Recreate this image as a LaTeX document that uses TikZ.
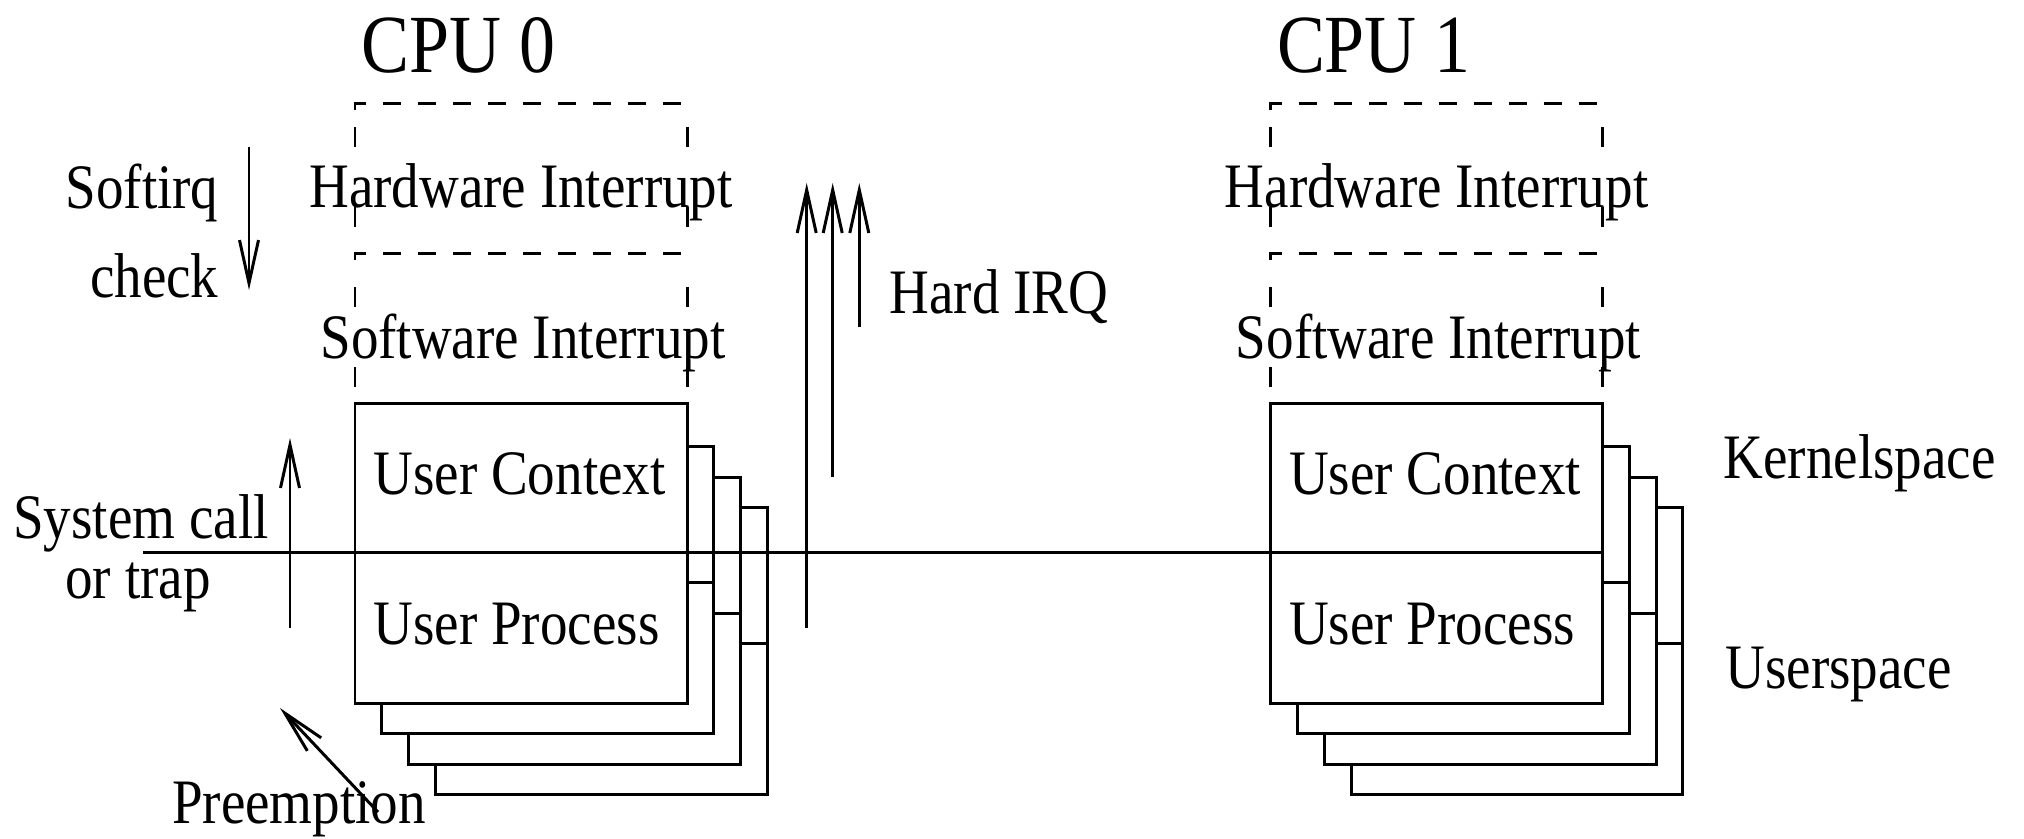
\documentclass[tikz,border=0pt]{standalone}
\usepackage{fontspec}
\setmainfont{Liberation Serif}[FakeStretch=0.87]
\usetikzlibrary{arrows.meta}

\begin{document}
\begin{tikzpicture}[x=0.01cm,y=-0.01cm,line width=0.85pt,
                    >={Straight Barb[length=4.3mm,width=1.9mm]},
                    lbl/.style={inner sep=0pt,font=\fontsize{18}{20}\selectfont},
                    cpulbl/.style={inner sep=0pt,font=\fontsize{23.5}{26}\selectfont},
                    hdash/.style={dash pattern=on 1.8mm off 1.7mm},
                    vdash/.style={dash pattern=on 2mm off 6mm,dash phase=5.6mm}]
  \useasboundingbox (0,0) rectangle (2024,838);

  \foreach \cpu/\dx in {0/0cm,1/9.15cm} {
    \begin{scope}[xshift=\dx]
      % interrupt levels
      \draw[hdash] (355,110) -- (355,103) -- (687,103) -- (687,110);
      \draw[hdash] (355,260) -- (355,253) -- (687,253) -- (687,260);
      \draw[vdash] (355,103) -- (355,403) (687,103) -- (687,403);
      \node[cpulbl,anchor=base west] (cpu\cpu) at (360,72) {CPU \cpu};
      \node[lbl,anchor=base] (hw\cpu) at (521,207) {Hardware Interrupt};
      \node[lbl,anchor=base] (sw\cpu) at (523,358) {Software Interrupt};
      % context box
      \draw (355,403) rectangle (687,703);
      \node[lbl,anchor=base west] (ctx\cpu) at (372,494) {User Context};
      \node[lbl,anchor=base west] (proc\cpu) at (372,644) {User Process};
      % processes stacked behind
      \foreach \i in {1,2,3}
        \draw (687+26.8*\i-26.8,416+30.5*\i) -| (687+26.8*\i,703+30.5*\i)
              -| (355+26.9*\i,672.5+30.5*\i)
              (687+26.8*\i-26.8,552+30.5*\i) -- ++(26.8,0);
    \end{scope}
  }

  % kernel/user boundary
  \draw (143,552.3) -- (1601,552.3);
  \node[lbl,anchor=base west] (kspace) at (1722,478) {Kernelspace};
  \node[lbl,anchor=base west] (uspace) at (1724,688) {Userspace};

  % transitions
  \draw[->] (249,147) -- (249,290);
  \node[lbl,anchor=base east] (softirq) at (220,208) {Softirq};
  \node[lbl,anchor=base east] (softchk) at (220,297) {check};
  \draw[->] (290,628) -- (290,438);
  \node[lbl,anchor=base] (syscall) at (141,538) {System call};
  \node[lbl,anchor=base] (trap) at (138,598) {or trap};
  \draw[->] (378,812) -- (280,708);
  \node[lbl,anchor=base] (preempt) at (299,823) {Preemption};
  \foreach \x/\y in {806.7/628,832.7/477,859.3/327}
    \draw[->] (\x,\y) -- (\x,183);
  \node[lbl,anchor=base west] (hardirq) at (888,313) {Hard IRQ};
\end{tikzpicture}
\end{document}
